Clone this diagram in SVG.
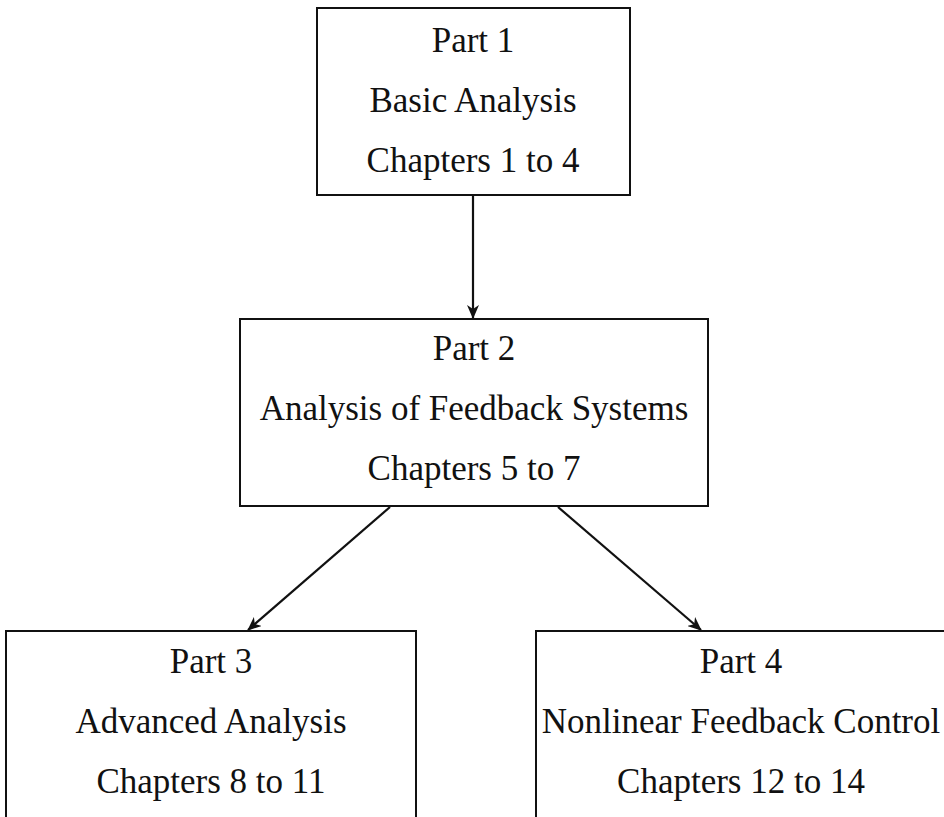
<svg xmlns="http://www.w3.org/2000/svg" width="944" height="817" viewBox="0 0 944 817">
<style>
.box{fill:#fff;stroke:#111;stroke-width:2}
.t{font-family:"Liberation Serif","Times New Roman",serif;font-size:35px;fill:#111;text-anchor:middle}
.c{stroke:#111;stroke-width:2.2;fill:none;marker-end:url(#ah)}
</style>
<defs>
<marker id="ah" markerWidth="14" markerHeight="12" refX="13" refY="6" orient="auto" markerUnits="userSpaceOnUse">
<path d="M0,0 L14,6 L0,12 L4,6 Z" fill="#111"/>
</marker>
</defs>
<rect width="944" height="817" fill="#fff"/>
<g id="connectors">
<line class="c" x1="473" y1="195" x2="473" y2="318"/>
<line class="c" x1="390" y1="507" x2="248" y2="630"/>
<line class="c" x1="558" y1="507" x2="701" y2="630"/>
</g>
<g id="part1">
<rect class="box" x="317" y="8" width="313" height="187"/>
<text class="t" x="473" y="52">Part 1</text>
<text class="t" x="473" y="112">Basic Analysis</text>
<text class="t" x="473" y="172">Chapters 1 to 4</text>
</g>
<g id="part2">
<rect class="box" x="240" y="319" width="468" height="187"/>
<text class="t" x="474" y="360">Part 2</text>
<text class="t" x="474" y="420">Analysis of Feedback Systems</text>
<text class="t" x="474" y="480">Chapters 5 to 7</text>
</g>
<g id="part3">
<rect class="box" x="6" y="631" width="410" height="200"/>
<text class="t" x="211" y="673">Part 3</text>
<text class="t" x="211" y="733">Advanced Analysis</text>
<text class="t" x="211" y="793">Chapters 8 to 11</text>
</g>
<g id="part4">
<rect class="box" x="536" y="631" width="410" height="200"/>
<text class="t" x="741" y="673">Part 4</text>
<text class="t" x="741" y="733">Nonlinear Feedback Control</text>
<text class="t" x="741" y="793">Chapters 12 to 14</text>
</g>
</svg>
